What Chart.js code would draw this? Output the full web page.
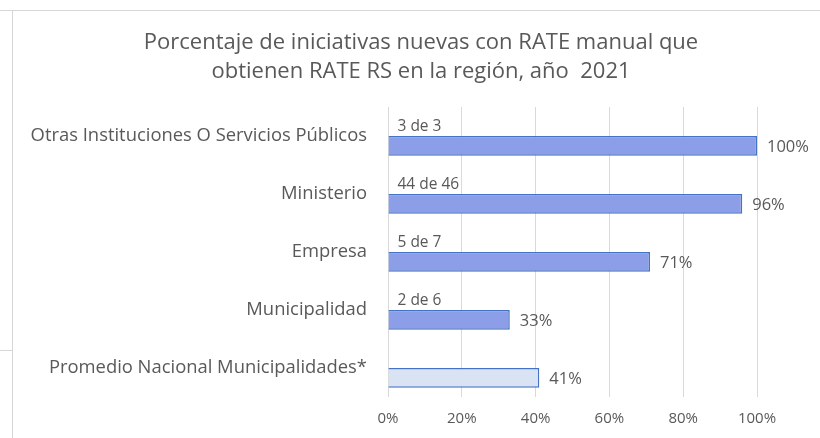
<!DOCTYPE html>
<html>
<head>
<meta charset="utf-8">
<script src="https://cdn.jsdelivr.net/npm/chart.js@4.4.0/dist/chart.umd.min.js"></script>
<style>
  body { margin: 0; background: #fff; }
  #marco { position: relative; width: 820px; height: 438px; }
  .linea { position: absolute; background: #d6d6d6; }
</style>
</head>
<body>
<div id="marco">
  <canvas id="barrasRATE" width="820" height="438"></canvas>
  <div class="linea" style="left:0;top:10px;width:820px;height:1px"></div>
  <div class="linea" style="left:12px;top:10px;width:1px;height:428px"></div>
  <div class="linea" style="left:0;top:350px;width:12px;height:1px"></div>
</div>
<script>
// datos del gráfico
const categorias = [
  'Otras Instituciones O Servicios Públicos',
  'Ministerio',
  'Empresa',
  'Municipalidad',
  'Promedio Nacional Municipalidades*'
];
const porcentajes = [100, 96, 71, 33, 41];
const conteos = ['3 de 3', '44 de 46', '5 de 7', '2 de 6', ''];
const ticksX = [0, 20, 40, 60, 80, 100];

const tituloLineas = [
  'Porcentaje de iniciativas nuevas con RATE manual que',
  'obtienen RATE RS en la región, año  2021'
];

const fuente = '"Open Sans", Lato, sans-serif';
const gris = '#595959';

// título centrado un poco a la derecha, como en la planilla
const tituloPlanilla = {
  id: 'tituloPlanilla',
  afterDraw(chart) {
    const ctx = chart.ctx;
    ctx.save();
    ctx.fillStyle = gris;
    ctx.font = '22px ' + fuente;
    ctx.textAlign = 'center';
    ctx.textBaseline = 'middle';
    tituloLineas.forEach(function (linea, i) {
      ctx.fillText(linea, 421, 43 + i * 29);
    });
    ctx.restore();
  }
};

// p/ escribir las etiquetas de cada barra
const etiquetasBarras = {
  id: 'etiquetasBarras',
  afterDatasetsDraw(chart) {
    const ctx = chart.ctx;
    ctx.save();
    ctx.fillStyle = gris;
    ctx.textBaseline = 'middle';
    ctx.textAlign = 'left';

    // conteos (serie invisible, arriba de la barra)
    ctx.font = '15.5px ' + fuente;
    chart.getDatasetMeta(0).data.forEach(function (barra, i) {
      ctx.fillText(conteos[i], barra.base + 9, barra.y);
    });

    // porcentajes al final de cada barra
    ctx.font = '16.5px ' + fuente;
    chart.getDatasetMeta(1).data.forEach(function (barra, i) {
      ctx.fillText(porcentajes[i] + '%', barra.x + 10, barra.y + 1);
    });
    ctx.restore();
  }
};

const ctx = document.getElementById('barrasRATE').getContext('2d');
const grafico = new Chart(ctx, {
  type: 'bar',
  data: {
    labels: categorias,
    datasets: [
      {
        label: 'Conteo',
        data: porcentajes,
        backgroundColor: 'rgba(0,0,0,0)',
        borderWidth: 0
      },
      {
        label: 'Porcentaje',
        data: porcentajes,
        backgroundColor: ['#8c9ee8', '#8c9ee8', '#8c9ee8', '#8c9ee8', '#dae3f3'],
        borderColor: '#4472c4',
        borderWidth: 1.5
      }
    ]
  },
  options: {
    indexAxis: 'y',
    responsive: false,
    animation: false,
    categoryPercentage: 0.68,
    barPercentage: 1.0,
    layout: { padding: { left: 20, right: 63, top: 107, bottom: 0 } },
    plugins: {
      legend: { display: false },
      tooltip: { enabled: false },
      title: { display: false }
    },
    scales: {
      x: {
        min: 0,
        max: 100,
        afterBuildTicks: function (scale) {
          scale.ticks = ticksX.map(function (v) { return { value: v }; });
        },
        afterFit: function (scale) { scale.height = 41; },
        grid: { color: '#d9d9d9', drawTicks: false },
        border: { display: false },
        ticks: {
          color: gris,
          padding: 13,
          font: { family: fuente, size: 15 },
          callback: function (v) { return v + '%'; }
        }
      },
      y: {
        afterFit: function (scale) { scale.width = 368; },
        grid: { display: false, drawTicks: false },
        border: { display: false },
        ticks: {
          color: gris,
          padding: 21,
          font: { family: fuente, size: 18.4 }
        }
      }
    }
  },
  plugins: [etiquetasBarras, tituloPlanilla]
});
</script>
</body>
</html>
